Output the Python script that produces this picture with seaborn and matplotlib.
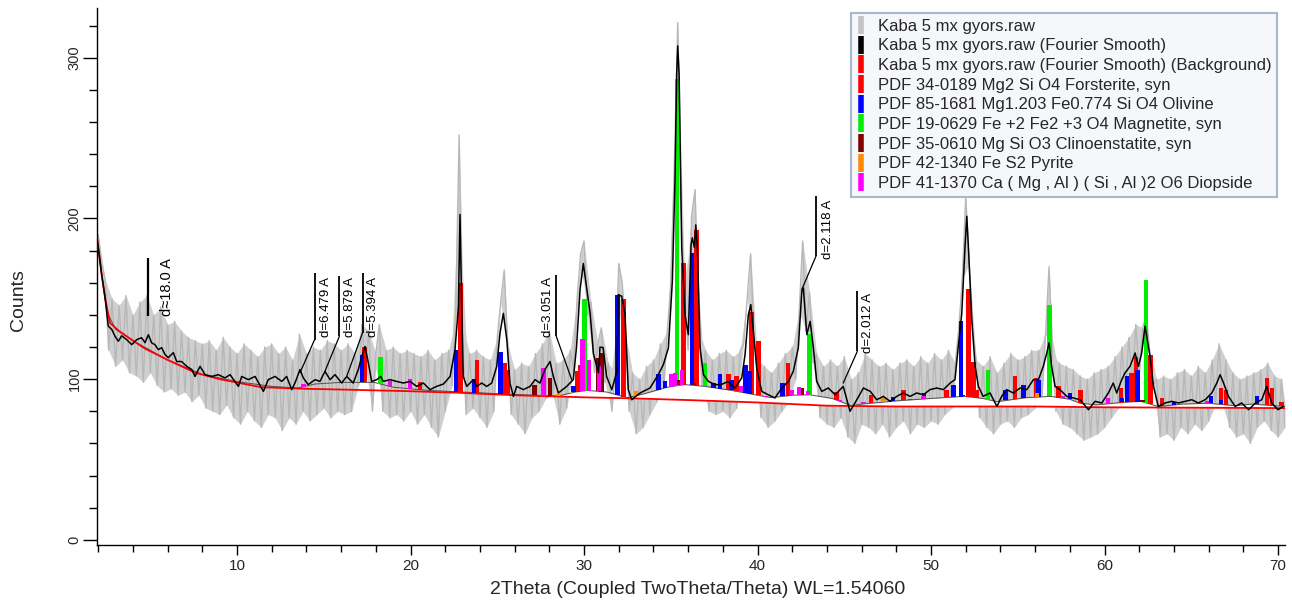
import numpy as np
import pandas as pd
import matplotlib
matplotlib.use("Agg")
import matplotlib.pyplot as plt
import seaborn as sns
from matplotlib.lines import Line2D
from matplotlib import font_manager
from matplotlib.ticker import MultipleLocator

# ---------------- data ----------------
raw_start = 2.0
raw_step = 0.2
raw_counts = [
    190, 172, 162, 118, 150, 108, 146, 112, 152, 104,
    140, 102, 148, 98, 152, 104, 140, 96, 145, 92,
    134, 94, 136, 90, 130, 92, 126, 86, 124, 90,
    122, 82, 124, 80, 118, 78, 126, 84, 120, 76,
    116, 72, 122, 80, 118, 74, 114, 70, 120, 78,
    122, 76, 116, 68, 120, 76, 112, 72, 128, 80,
    116, 74, 120, 78, 118, 82, 124, 76, 122, 80,
    118, 78, 122, 80, 116, 96, 134, 108, 130, 80,
    116, 134, 80, 118, 76, 120, 78, 116, 74, 118,
    80, 116, 72, 114, 78, 118, 70, 112, 64, 116,
    80, 118, 96, 138, 252, 134, 78, 116, 82, 118,
    76, 114, 70, 112, 80, 126, 148, 168, 122, 78,
    106, 72, 110, 66, 108, 76, 116, 80, 122, 88,
    130, 90, 110, 72, 112, 82, 118, 106, 150, 178,
    186, 140, 148, 104, 122, 132, 98, 110, 80, 104,
    172, 160, 128, 80, 104, 66, 100, 70, 108, 78,
    112, 86, 122, 96, 130, 158, 232, 322, 206, 152,
    118, 202, 218, 132, 96, 118, 80, 112, 78, 116,
    80, 118, 76, 114, 82, 118, 122, 150, 178, 124,
    112, 76, 108, 70, 104, 74, 110, 80, 116, 86,
    120, 100, 142, 186, 130, 154, 110, 116, 76, 108,
    72, 112, 70, 108, 76, 114, 64, 100, 60, 104,
    72, 116, 70, 112, 66, 108, 72, 110, 64, 106,
    70, 110, 74, 112, 66, 108, 72, 114, 70, 110,
    74, 116, 72, 112, 78, 118, 82, 110, 132, 162,
    214, 172, 130, 112, 76, 108, 70, 114, 66, 104,
    72, 110, 74, 116, 70, 112, 76, 114, 78, 118,
    82, 118, 90, 128, 170, 116, 80, 110, 72, 108,
    70, 106, 66, 102, 62, 100, 64, 104, 66, 106,
    70, 108, 76, 114, 82, 120, 90, 126, 96, 134,
    104, 132, 140, 118, 96, 100, 64, 102, 66, 100,
    62, 104, 70, 106, 66, 102, 72, 108, 68, 104,
    74, 112, 84, 122, 84, 112, 70, 104, 64, 100,
    66, 102, 60, 104, 70, 106, 74, 110, 68, 102,
    64, 100, 70,
]

smooth_theta = [
    1.93, 2.0, 2.2, 2.39, 2.58, 2.78, 2.97, 3.16, 3.35, 3.64, 3.93, 4.22, 4.5, 4.7, 4.89,
    5.08, 5.27, 5.46, 5.66, 5.85, 6.04, 6.33, 6.52, 6.8, 7.1, 7.39, 7.58, 7.87, 8.16, 8.54,
    8.92, 9.31, 9.6, 10.08, 10.27, 10.65, 11.04, 11.52, 11.8, 12.19, 12.58, 12.86, 13.15,
    13.34, 13.63, 13.82, 14.1, 14.5, 14.78, 15.07, 15.36, 15.65, 16.03, 16.32, 16.7, 16.99,
    17.19, 17.38, 17.57, 17.76, 18.05, 18.28, 18.43, 18.82, 19.2, 19.59, 19.97, 20.36,
    20.74, 21.12, 21.5, 21.9, 22.28, 22.56, 22.76, 22.85, 22.95, 23.04, 23.24, 23.43,
    23.62, 23.82, 24.1, 24.39, 24.68, 24.97, 25.16, 25.35, 25.55, 25.73, 25.93, 26.12,
    26.5, 26.89, 27.18, 27.46, 27.75, 28.04, 28.23, 28.52, 29.0, 29.38, 29.57, 29.77,
    29.96, 30.06, 30.35, 30.54, 30.83, 30.92, 31.1, 31.3, 31.6, 31.9, 31.98, 32.17, 32.36,
    32.55, 32.75, 33.23, 33.8, 34.28, 34.57, 34.86, 35.09, 35.24, 35.34, 35.4, 35.48,
    35.63, 35.82, 36.01, 36.17, 36.24, 36.36, 36.44, 36.53, 36.69, 36.88, 37.17, 37.55,
    37.9, 38.3, 38.7, 39.09, 39.28, 39.47, 39.61, 39.76, 39.95, 40.24, 40.62, 41.0, 41.4,
    41.78, 42.06, 42.35, 42.55, 42.64, 42.84, 43.03, 43.22, 43.41, 43.7, 44.08, 44.47,
    44.94, 45.33, 45.72, 46.1, 46.5, 46.87, 47.25, 47.64, 48.02, 48.4, 48.79, 49.17,
    49.56, 49.94, 50.33, 50.71, 51.1, 51.38, 51.57, 51.77, 51.96, 52.06, 52.15, 52.35,
    52.54, 52.73, 53.0, 53.4, 53.8, 54.07, 54.36, 54.74, 55.13, 55.52, 55.9, 56.19, 56.47,
    56.67, 56.8, 56.95, 57.15, 57.43, 57.82, 58.2, 58.59, 59.07, 59.45, 59.84, 60.22,
    60.5, 60.7, 60.99, 61.18, 61.47, 61.76, 61.95, 62.14, 62.33, 62.43, 62.62, 62.82,
    63.1, 63.49, 63.87, 64.26, 64.64, 65.03, 65.4, 65.8, 66.18, 66.47, 66.66, 66.86,
    67.14, 67.53, 67.9, 68.3, 68.7, 69.06, 69.35, 69.63, 70.0, 70.3,
]
smooth_counts = [
    188, 182, 165, 151, 133, 131, 126.7, 123.6, 127, 124.6, 121.5, 124.6, 125.8, 122.7, 127.7,
    122.6, 121.5, 118.4, 119.6, 115.3, 113.4, 116.5, 111, 111, 108, 106, 101.7, 108, 102.8, 101.7,
    102.8, 100.8, 102.8, 95.5, 101.7, 99.7, 101.7, 92.4, 99.7, 101.7, 98.6, 101.7, 93.5,
    97.6, 106, 100.8, 96.6, 99.7, 98.6, 104.9, 99.7, 102.8, 97.6, 101.7, 97.6, 106,
    114.2, 120.4, 110, 98.6, 99.7, 101.7, 98.6, 99.7, 98.6, 97.6, 98.6, 95.5,
    97.6, 93.5, 95.5, 97, 101.7, 118, 145, 202.5, 145, 101.7, 95.5, 97.6,
    99.7, 95.5, 97.6, 95.5, 97.6, 108, 129, 141, 124.6, 97.6, 89.3, 95.5,
    93.5, 95.5, 99.7, 97.6, 106, 111, 101.7, 91.4, 95.5, 99.7, 120.4, 155.8,
    172, 164, 141, 116, 104, 120, 119.6, 101.7, 93.5, 105, 152.6, 151.6, 141,
    93.5, 87.2, 91.4, 94.5, 102.8, 109, 119.4, 161, 223, 289.7, 307.4, 289.7,
    182, 140, 127.7, 183.8, 188, 182, 196, 182, 119.4, 102.8, 98.6, 96.6,
    96.6, 98.6, 94.5, 100.8, 115.3, 140, 146.4, 129.8, 107, 92.4, 90.3, 88.3, 94.5,
    98.6, 104.9, 119.4, 154.7, 156.8, 127.7, 136, 119.4, 98.6, 92.4, 94.5, 90.3,
    95.5, 80, 87.2, 94.5, 92.4, 87.2, 89.3, 86.2, 89.3, 91.4, 89.3, 91.4,
    90.3, 93.5, 94.5, 93.5, 97.6, 99.7, 120.4, 141, 182.7, 201.4, 182.7, 137,
    108, 95.5, 89.3, 91.4, 83, 89.3, 93.5, 91.4, 94.5, 93.5, 99.7, 99.7, 108,
    116.3, 122.6, 108, 95.5, 93.5, 89.3, 88.3, 87.2, 81, 86.2, 85.2, 91.4,
    97.6, 91.4, 99.7, 103.9, 108, 116.3, 108, 116.3, 133, 126.7, 114.2, 95.5,
    83, 85.2, 86.2, 85.2, 86.2, 87.2, 85.2, 87.2, 91.4, 97.6, 102.8, 97.6,
    89.3, 83, 85.2, 81, 85.2, 87.2, 95.5, 85.2, 81, 83,
]

bg_theta = [1.93, 2.0, 2.2, 2.39, 2.68, 3.2, 4.0, 4.7, 6.0, 7.6, 9.0, 11.4, 14.0, 16.2, 20.0,
            22.9, 26.0, 30.0, 33.0, 36.0, 40.0, 44.0, 48.0, 52.0, 56.0, 60.0, 64.0, 70.4]
bg_counts = [188, 182, 165, 151, 135, 130, 124, 119, 112, 104, 100, 95, 94, 93.5, 92.5,
             91.5, 90, 88.7, 88, 87, 85.5, 83.5, 83, 83, 83, 82.5, 82.3, 82]

hump_theta = [1.93, 2.5, 3.0, 4.0, 5.0, 6.0, 8.0, 10.0, 12.0, 13.5, 14.5, 16.0, 17.9, 19.0,
              21.0, 23.0, 25.0, 27.0, 28.5, 29.5, 30.2, 31.3, 32.5, 33.5, 34.8, 35.8, 37.0,
              38.5, 40.0, 40.8, 42.0, 43.0, 44.3, 45.4, 46.0, 48.0, 50.0, 51.9, 53.0, 53.8,
              55.5, 56.9, 58.0, 58.6, 59.5, 61.0, 62.1, 63.1, 64.5, 66.0, 67.5, 68.5, 70.4]
hump_counts = [188, 142, 131, 124, 118, 112, 103, 98.5, 95.5, 94.5, 97, 98, 98, 95,
               93, 92, 91, 90, 89.5, 92, 93, 92, 88.5, 91, 95, 96.6, 95.5,
               93, 90, 88.5, 90, 90.3, 88, 83.5, 84.5, 86.5, 88, 89.3, 88, 86,
               88.5, 89.3, 87.5, 85, 84, 85.5, 86.2, 83, 84.5, 85, 83.5, 84.5, 83]

forsterite_theta = [17.35, 20.55, 22.88, 23.82, 25.45, 25.62, 29.62, 29.78, 32.27, 35.72,
                    36.49, 38.32, 38.8, 39.66, 40.05, 41.75, 44.56, 46.55, 48.4, 48.79,
                    50.9, 52.15, 52.44, 52.63, 54.84, 56.05, 57.34, 58.6, 60.95, 61.56,
                    61.8, 62.66, 63.3, 66.7, 67.0, 69.35, 69.64, 70.2]
forsterite_counts = [120, 98, 160, 112, 110, 106, 105, 109, 150, 172,
                     193, 103, 102, 142, 123.6, 110, 92, 90, 93.5, 87,
                     93.5, 156, 110.5, 93.5, 101.7, 101, 95.5, 93.5, 94.5, 104,
                     114, 115, 88, 94.5, 93.5, 100.7, 94.5, 86]

olivine_theta = [17.19, 22.62, 23.66, 25.2, 29.4, 31.94, 34.28, 34.67, 36.21, 37.45, 37.84,
                 38.5, 39.3, 39.57, 41.43, 47.8, 49.6, 51.3, 51.73, 54.3, 55.32, 56.19,
                 58.0, 61.0, 61.3, 61.9, 64.0, 66.13, 66.7, 68.8]
olivine_counts = [115, 118, 100, 117, 95.5, 152.6, 103, 98.6, 178.5, 97.6, 103,
                  99.7, 109, 105, 97.6, 89, 91.4, 96.6, 136, 93.5, 96.6, 99.7,
                  91.4, 88.3, 101.7, 106, 86, 89.3, 87.2, 89.3]

magnetite_theta = [18.28, 30.02, 35.37, 36.97, 43.0, 53.27, 56.83, 62.4]
magnetite_counts = [114, 150, 287, 110, 128, 105.5, 146, 162]

clinoenstatite_theta = [27.14, 28.04, 30.83, 31.02, 35.5, 36.3, 42.55, 51.8, 62.2]
clinoenstatite_counts = [96.6, 101, 113, 116.3, 99.7, 97.6, 94.5, 90.3, 87]

pyrite_theta = [28.52, 33.0, 47.25, 56.1]
pyrite_counts = [90.5, 92.5, 88, 91.4]

diopside_theta = [13.82, 18.82, 19.97, 27.65, 29.9, 30.3, 30.86, 35.05, 35.24, 35.66, 39.05,
                  40.5, 41.97, 42.4, 42.9, 44.74, 46.1, 49.56, 53.0, 57.6, 60.2, 65.9]
diopside_counts = [97, 98.6, 100, 107, 125, 112, 108, 103, 104, 106, 96,
                   89.5, 93.5, 95, 92.4, 87, 85.5, 89.3, 88.5, 89.3, 88.5, 86.2]

legend_labels = [
    "Kaba 5 mx gyors.raw",
    "Kaba 5 mx gyors.raw (Fourier Smooth)",
    "Kaba 5 mx gyors.raw (Fourier Smooth) (Background)",
    "PDF 34-0189 Mg2 Si O4 Forsterite, syn",
    "PDF 85-1681 Mg1.203 Fe0.774 Si O4 Olivine",
    "PDF 19-0629 Fe +2 Fe2 +3 O4 Magnetite, syn",
    "PDF 35-0610 Mg Si O3 Clinoenstatite, syn",
    "PDF 42-1340 Fe S2 Pyrite",
    "PDF 41-1370 Ca ( Mg , Al ) ( Si , Al )2 O6 Diopside",
]

x_label = "2Theta (Coupled TwoTheta/Theta) WL=1.54060"
y_label = "Counts"

# annotation spec: text, text_x, text_bottom, line_x, line_bottom, line_top, peak_x, peak_y
annotations = [
    ("d\u224818.0 A", 5.95, 139.5, 4.87, 139.6, 175.5, None, None),
    ("d=6.479 A", 15.13, 126.0, 14.47, 124.6, 166.0, 13.63, 104.0),
    ("d=5.879 A", 16.51, 126.0, 15.90, 126.7, 164.5, 15.07, 105.0),
    ("d=5.394 A", 17.84, 126.0, 17.24, 129.0, 166.0, 16.32, 101.7),
    ("d=3.051 A", 27.93, 126.5, 28.40, 126.7, 165.0, 29.29, 99.7),
    ("d=2.118 A", 44.06, 174.5, 43.37, 176.6, 214.0, 42.55, 155.8),
    ("d=2.012 A", 46.37, 116.5, 45.75, 117.3, 154.7, 44.94, 97.6),
]

# ---------------- styling ----------------
sns.set_style("ticks")
names = {f.name for f in font_manager.fontManager.ttflist}
base_font = "Liberation Sans" if "Liberation Sans" in names else "DejaVu Sans"
plt.rcParams["font.family"] = [base_font, "DejaVu Sans"]

W, H = 1292, 606
fig = plt.figure(figsize=(W / 100, H / 100), dpi=100)
ax = fig.add_axes([97 / W, 1 - 545 / H, (1285 - 97) / W, (545 - 8) / H])

raw_theta = raw_start + raw_step * np.arange(len(raw_counts))
raw_df = pd.DataFrame({"theta": raw_theta, "counts": raw_counts})
smooth_df = pd.DataFrame({"theta": smooth_theta, "counts": smooth_counts})
bg_df = pd.DataFrame({"theta": bg_theta, "counts": bg_counts})
hump_df = pd.DataFrame({"theta": hump_theta, "counts": hump_counts})

# noise band: spread between each raw point and the mean of its neighbours
rc = raw_df["counts"].astype(float)
neigh = (rc.shift(1).bfill() + rc.shift(-1).ffill()) / 2
band_hi = np.maximum(rc, neigh)
band_lo = np.minimum(rc, neigh)
ax.fill_between(raw_df["theta"], band_lo, band_hi, color="#CFCFCF", lw=0, zorder=0.5)
sns.lineplot(data=raw_df, x="theta", y="counts", color="#B8B8B8", lw=1.0, ax=ax,
             sort=False, estimator=None, zorder=1)

hump_t = np.array(hump_theta)
hump_c = np.array(hump_counts)
red_at_hump = np.interp(hump_t, bg_theta, bg_counts)
ax.fill_between(hump_t, red_at_hump, hump_c, where=hump_t >= 28.3, color="white",
                zorder=2, lw=0, interpolate=True)
sns.lineplot(data=hump_df, x="theta", y="counts", color="#505050", lw=0.7, ax=ax,
             sort=False, estimator=None, zorder=3)
sns.lineplot(data=bg_df, x="theta", y="counts", color="#FF0000", lw=1.3, ax=ax,
             sort=False, estimator=None, zorder=3)

phases = [
    (forsterite_theta, forsterite_counts, "#FF0000"),
    (olivine_theta, olivine_counts, "#0000FF"),
    (magnetite_theta, magnetite_counts, "#00EE00"),
    (clinoenstatite_theta, clinoenstatite_counts, "#800000"),
    (pyrite_theta, pyrite_counts, "#FF8C00"),
    (diopside_theta, diopside_counts, "#FF00FF"),
]
for th, ct, col in phases:
    th = np.array(th)
    bottom = np.interp(th, hump_theta, hump_counts)
    height = np.clip(np.array(ct) - bottom, 0.4, None)
    ax.bar(th, height, bottom=bottom, width=0.26, color=col, lw=0, zorder=4)

sns.lineplot(data=smooth_df, x="theta", y="counts", color="black", lw=1.1, ax=ax,
             sort=False, estimator=None, zorder=5)

# annotations
for txt, tx, tb, lx, lb, lt, px, py in annotations:
    big = txt.startswith("d\u2248")
    ax.plot([lx, lx], [lb, lt], color="black", lw=1.6 if big else 1.3, zorder=6,
            solid_capstyle="butt")
    if px is not None:
        ax.plot([lx, px], [lb, py], color="black", lw=0.9, zorder=6)
    ax.text(tx, tb, txt, rotation=90, ha="center", va="bottom",
            fontsize=10.5 if big else 9.5, color="black", zorder=7)

ax.set_xlim(1.93, 70.4)
ax.set_ylim(-3.2, 331)
ax.xaxis.set_major_locator(MultipleLocator(10))
ax.xaxis.set_minor_locator(MultipleLocator(2))
ax.yaxis.set_major_locator(MultipleLocator(100))
ax.yaxis.set_minor_locator(MultipleLocator(20))
ax.tick_params(axis="x", which="major", length=7, width=1, color="black", direction="out")
ax.tick_params(axis="x", which="minor", length=5, width=1, color="black", direction="out")
ax.tick_params(axis="y", which="major", length=10, width=1, color="black", direction="out")
ax.tick_params(axis="y", which="minor", length=6, width=1, color="black", direction="out")
ax.tick_params(axis="x", labelsize=11, pad=3)
ax.tick_params(axis="y", labelsize=10.5, labelrotation=90, pad=1)
for lbl in ax.get_yticklabels():
    lbl.set_va("center")
ax.set_xlabel("")
ax.set_ylabel("")
sns.despine(ax=ax)
for s in ("left", "bottom"):
    ax.spines[s].set_color("black")
    ax.spines[s].set_linewidth(1)

fig.text(18 / W, 1 - 300 / H, y_label, rotation=90, ha="center", va="center", fontsize=14)
fig.text(698 / W, 1 - 590 / H, x_label, ha="center", va="center", fontsize=14)

handle_colors = ["#C3C3C3", "black", "#FF0000", "#FF0000", "#0000FF", "#00EE00", "#800000",
                 "#FF8C00", "#FF00FF"]
handles = [Line2D([], [], color=c, marker="|", linestyle="None", markersize=13,
                  markeredgewidth=4) for c in handle_colors]
leg = fig.legend(handles, legend_labels, loc="upper right",
                 bbox_to_anchor=(1277 / W, 1 - 13 / H), borderaxespad=0,
                 fontsize=12, frameon=True, fancybox=False, framealpha=1,
                 handlelength=0.5, handletextpad=0.75, labelspacing=0.28, borderpad=0.35)
leg.get_frame().set_edgecolor("#A8B8CC")
leg.get_frame().set_facecolor("#F5F7FA")
leg.get_frame().set_linewidth(1.5)
leg.set_zorder(10)

fig.savefig("out.png", dpi=100)
